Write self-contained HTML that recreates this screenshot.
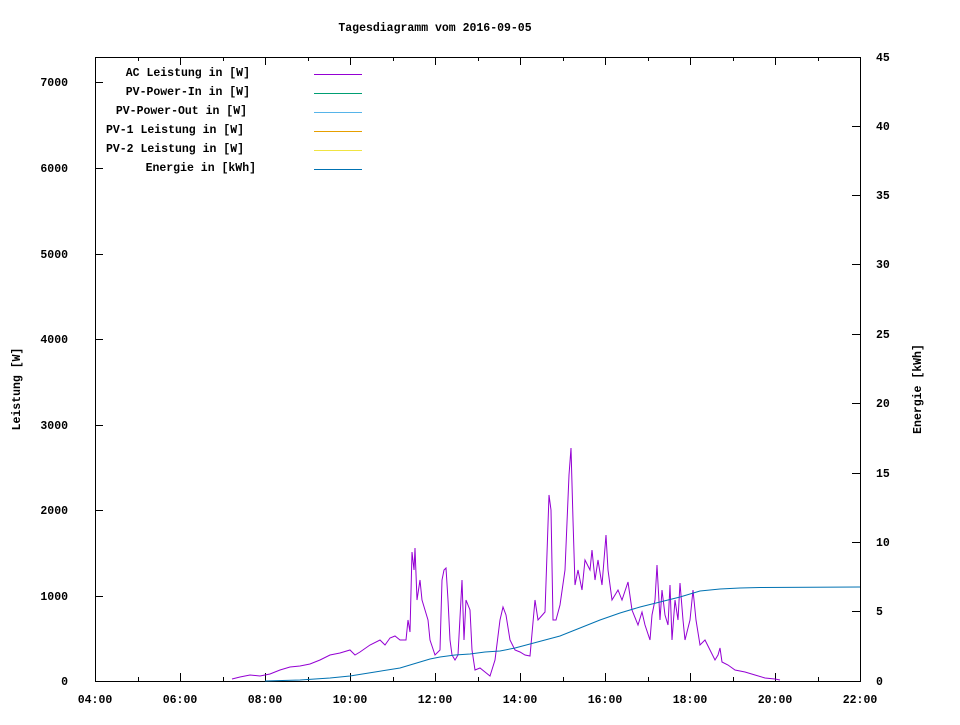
<!DOCTYPE html>
<html><head><meta charset="utf-8"><style>
body{margin:0;background:#fff}
svg text{font-family:"Liberation Mono",monospace;font-size:11.5px;font-weight:bold;fill:#000}
</style></head><body>
<svg width="960" height="720" xmlns="http://www.w3.org/2000/svg">
<rect width="960" height="720" fill="#fff"/>
<text x="435" y="31" text-anchor="middle">Tagesdiagramm vom 2016-09-05</text>
<text transform="translate(20,389) rotate(-90)" text-anchor="middle">Leistung [W]</text>
<text transform="translate(921,389) rotate(-90)" text-anchor="middle">Energie [kWh]</text>
<rect x="95.5" y="57.5" width="765" height="624" fill="none" stroke="#000" stroke-width="1"/>
<g stroke="#000" stroke-width="1">
<!-- left major ticks -->
<path d="M95 596.5h8M95 510.5h8M95 425.5h8M95 339.5h8M95 254.5h8M95 168.5h8M95 82.5h8"/>
<!-- right ticks -->
<path d="M860 611.5h-8M860 542.5h-8M860 473.5h-8M860 403.5h-8M860 334.5h-8M860 264.5h-8M860 195.5h-8M860 126.5h-8"/>
<!-- x major -->
<path d="M180.5 681v-8M265.5 681v-8M350.5 681v-8M435.5 681v-8M520.5 681v-8M605.5 681v-8M690.5 681v-8M775.5 681v-8"/>
<path d="M180.5 57v8M265.5 57v8M350.5 57v8M435.5 57v8M520.5 57v8M605.5 57v8M690.5 57v8M775.5 57v8"/>
<!-- x minor -->
<path d="M138.5 681v-4M223.5 681v-4M308.5 681v-4M393.5 681v-4M478.5 681v-4M563.5 681v-4M648.5 681v-4M733.5 681v-4M818.5 681v-4"/>
<path d="M138.5 57v4M223.5 57v4M308.5 57v4M393.5 57v4M478.5 57v4M563.5 57v4M648.5 57v4M733.5 57v4M818.5 57v4"/>
</g>
<g text-anchor="end">
<text x="68" y="685">0</text><text x="68" y="600">1000</text><text x="68" y="514">2000</text>
<text x="68" y="429">3000</text><text x="68" y="343">4000</text><text x="68" y="258">5000</text>
<text x="68" y="172">6000</text><text x="68" y="86">7000</text>
</g>
<g>
<text x="876" y="685">0</text><text x="876" y="615">5</text><text x="876" y="546">10</text>
<text x="876" y="477">15</text><text x="876" y="407">20</text><text x="876" y="338">25</text>
<text x="876" y="268">30</text><text x="876" y="199">35</text><text x="876" y="130">40</text><text x="876" y="61">45</text>
</g>
<g text-anchor="middle">
<text x="95" y="703">04:00</text><text x="180" y="703">06:00</text><text x="265" y="703">08:00</text>
<text x="350" y="703">10:00</text><text x="435" y="703">12:00</text><text x="520" y="703">14:00</text>
<text x="605" y="703">16:00</text><text x="690" y="703">18:00</text><text x="775" y="703">20:00</text><text x="860" y="703">22:00</text>
</g>
<g text-anchor="end">
<text x="250" y="76">AC Leistung in [W]</text>
<text x="250" y="95">PV-Power-In in [W]</text>
<text x="247" y="114">PV-Power-Out in [W]</text>
<text x="244" y="133">PV-1 Leistung in [W]</text>
<text x="244" y="152">PV-2 Leistung in [W]</text>
<text x="256" y="171">Energie in [kWh]</text>
</g>
<g stroke-width="1">
<path d="M314 74.5h48" stroke="#9400d3"/>
<path d="M314 93.5h48" stroke="#009e73"/>
<path d="M314 112.5h48" stroke="#56b4e9"/>
<path d="M314 131.5h48" stroke="#e69f00"/>
<path d="M314 150.5h48" stroke="#f0e442"/>
<path d="M314 169.5h48" stroke="#0072b2"/>
</g>
<polyline fill="none" stroke="#9400d3" stroke-width="1" points="232,679 240,677 250,675 260,676 270,674 280,670 290,667 300,666 310,664 320,660 330,655 340,653 350,650 355,655 360,652 370,645 380,640 385,645 390,638 395,636 400,640 406,640 408,620 410,632 412,552 414,570 415,548 417,600 420,580 422,600 425,610 428,620 430,640 435,655 440,650 442,580 444,570 446,568 448,600 450,640 452,655 455,660 458,655 462,580 464,640 466,600 470,610 472,650 475,670 480,668 485,672 490,676 495,660 500,620 503,607 506,615 510,640 515,650 520,652 525,655 530,656 535,600 538,620 545,612 549,495 551,510 553,620 556,620 560,605 565,570 569,475 571,448 573,520 575,585 578,570 582,590 585,560 590,570 592,550 595,580 598,560 602,585 604,560 606,535 608,570 612,600 618,590 622,600 628,582 632,610 638,625 642,612 645,625 650,640 652,615 655,600 657,565 660,620 662,590 665,615 668,625 670,585 672,640 675,600 678,620 680,583 683,620 685,640 690,620 693,590 696,620 700,645 705,640 710,650 715,660 718,655 720,648 722,662 728,665 735,670 745,672 755,675 765,678 775,679 780,680"/>
<polyline fill="none" stroke="#0072b2" stroke-width="1" points="265,681 300,680 330,678 350,676 375,672 400,668 420,662 430,659 440,657 455,655 470,654 485,652 500,651 515,648 530,644 545,640 560,636 580,628 600,620 620,613 640,607 660,602 680,597 700,591 720,589 740,588 760,587.5 860,587"/>
</svg>
</body></html>
